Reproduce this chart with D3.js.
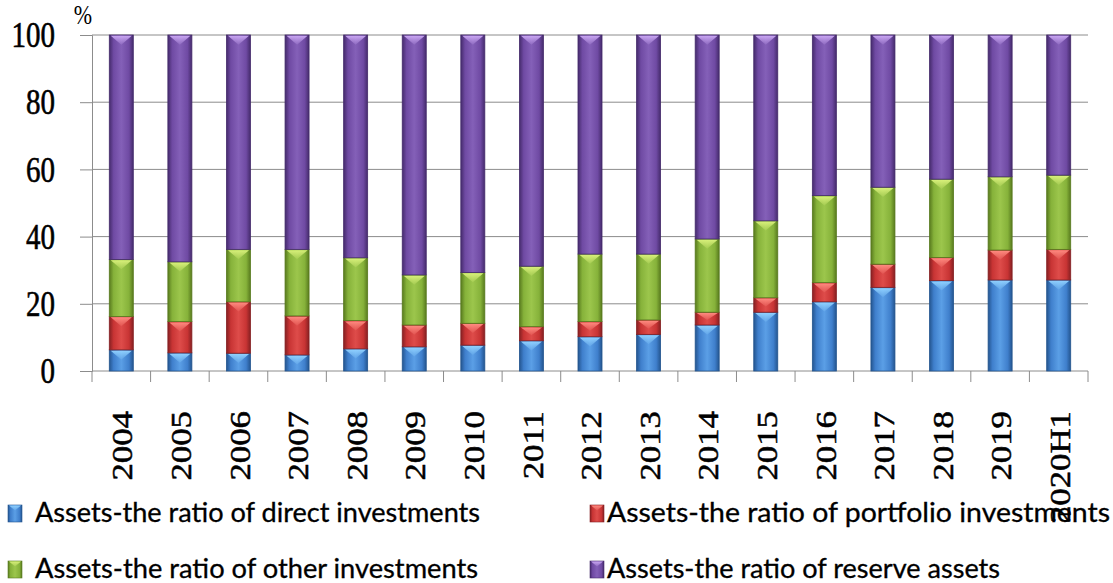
<!DOCTYPE html>
<html>
<head>
<meta charset="utf-8">
<script src="https://cdn.jsdelivr.net/npm/d3@7"></script>
<style>
  html, body { margin: 0; padding: 0; background: #ffffff; }
  svg { display: block; }
</style>
</head>
<body>
<svg id="chart" width="1113" height="583"></svg>
<script>
// Structure of external assets, % of total
const years = ["2004","2005","2006","2007","2008","2009","2010","2011","2012",
               "2013","2014","2015","2016","2017","2018","2019","2020H1"];
const direct    = [6.3, 5.4, 5.3, 4.8, 6.6, 7.2, 7.7, 9.0, 10.2, 10.9, 13.7, 17.5, 20.6, 24.9, 26.9, 27.1, 27.1];
const portfolio = [9.9, 9.3, 15.3, 11.6, 8.4, 6.5, 6.5, 4.2, 4.5, 4.3, 3.8, 4.3, 5.7, 6.9, 6.9, 8.9, 9.1];
const other     = [17.0, 17.8, 15.6, 19.8, 18.7, 14.9, 15.1, 18.0, 20.1, 19.6, 21.8, 22.9, 25.9, 22.9, 23.3, 21.8, 22.1];
const reserve   = [66.8, 67.5, 63.8, 63.8, 66.3, 71.4, 70.7, 68.8, 65.2, 65.2, 60.7, 55.3, 47.8, 45.3, 42.9, 42.2, 41.7];
const yTicks = [0, 20, 40, 60, 80, 100];

const seriesKeys = ["direct", "portfolio", "other", "reserve"];
const seriesNames = [
  "Assets-the ratio of direct investments",
  "Assets-the ratio of portfolio investments",
  "Assets-the ratio of other investments",
  "Assets-the ratio of reserve assets"
];
// edge / base / highlight / chevron colours for the bevelled bars
const palette = {
  direct:    { edge: "#24558f", base: "#3f7fcc", light: "#5b9fe6", tip: "#8fd0ff" },
  portfolio: { edge: "#862022", base: "#c83434", light: "#de4c4a", tip: "#ff8a80" },
  other:     { edge: "#587a1e", base: "#86b23a", light: "#9cc64c", tip: "#d8f07a" },
  reserve:   { edge: "#452b6c", base: "#6f4aa3", light: "#8460b8", tip: "#c9a6f2" }
};

const rows = years.map((yr, i) => ({
  year: yr, direct: direct[i], portfolio: portfolio[i], other: other[i], reserve: reserve[i]
}));

const svg = d3.select("#chart");
const plotLeft = 92, plotRight = 1088, plotTop = 35, plotBottom = 371;
const serif = "Liberation Serif, Times New Roman, serif";

const x = d3.scaleBand().domain(years).range([plotLeft, plotRight])
  .paddingInner(0.59).paddingOuter(0.295);
const y = d3.scaleLinear().domain([0, 100]).range([plotBottom, plotTop]);

// gradients
const defs = svg.append("defs");
seriesKeys.forEach(k => {
  const c = palette[k];
  const g = defs.append("linearGradient").attr("id", "grad-" + k)
    .attr("x1", "0%").attr("x2", "100%").attr("y1", "0%").attr("y2", "0%");
  g.append("stop").attr("offset", "0%").attr("stop-color", c.edge);
  g.append("stop").attr("offset", "18%").attr("stop-color", c.base);
  g.append("stop").attr("offset", "50%").attr("stop-color", c.light);
  g.append("stop").attr("offset", "82%").attr("stop-color", c.base);
  g.append("stop").attr("offset", "100%").attr("stop-color", c.edge);
  const t = defs.append("linearGradient").attr("id", "tip-" + k)
    .attr("x1", "0%").attr("x2", "0%").attr("y1", "0%").attr("y2", "100%");
  t.append("stop").attr("offset", "0%").attr("stop-color", c.tip).attr("stop-opacity", 1);
  t.append("stop").attr("offset", "100%").attr("stop-color", c.tip).attr("stop-opacity", 0.15);
});

// gridlines
svg.append("g").selectAll("line").data(yTicks.filter(v => v > 0)).join("line")
  .attr("x1", plotLeft).attr("x2", plotRight)
  .attr("y1", d => y(d)).attr("y2", d => y(d))
  .attr("stroke", "#8c8c8c").attr("stroke-width", 1);

// y axis
const yAxis = svg.append("g").attr("transform", `translate(${plotLeft},0)`)
  .call(d3.axisLeft(y).tickValues(yTicks).tickSize(12).tickFormat(""));
yAxis.select(".domain").attr("stroke", "#8c8c8c");
yAxis.selectAll(".tick line").attr("stroke", "#8c8c8c");

svg.append("g").selectAll("g").data(yTicks).join("g")
  .attr("transform", d => `translate(55,${y(d)}) scale(1,1.2)`)
  .append("text")
  .attr("text-anchor", "end").attr("dy", "0.35em")
  .attr("font-family", serif)
  .attr("font-size", 29).attr("fill", "#000")
  .attr("stroke", "#000").attr("stroke-width", 0.5)
  .text(d => d);

svg.append("g").attr("transform", "translate(83,24) scale(1,1.2)")
  .append("text").attr("text-anchor", "middle")
  .attr("font-family", serif)
  .attr("font-size", 22).attr("fill", "#000").text("%");

// x axis line and ticks on category boundaries
svg.append("line").attr("x1", plotLeft).attr("x2", plotRight)
  .attr("y1", plotBottom).attr("y2", plotBottom)
  .attr("stroke", "#8c8c8c");
const step = x.step();
svg.append("g").selectAll("line").data(d3.range(years.length + 1)).join("line")
  .attr("x1", i => plotLeft + i * step).attr("x2", i => plotLeft + i * step)
  .attr("y1", plotBottom).attr("y2", plotBottom + 11)
  .attr("stroke", "#8c8c8c");

// stacked bars
const stacked = d3.stack().keys(seriesKeys)(rows);
const bw = x.bandwidth();
const layers = svg.append("g").selectAll("g").data(stacked).join("g");
layers.each(function(layer) {
  const k = layer.key;
  const g = d3.select(this);
  g.selectAll("rect").data(layer).join("rect")
    .attr("x", d => x(d.data.year))
    .attr("y", d => y(d[1]))
    .attr("width", bw)
    .attr("height", d => y(d[0]) - y(d[1]))
    .attr("fill", `url(#grad-${k})`)
    .attr("stroke", palette[k].edge).attr("stroke-width", 0.8);
  g.selectAll("path").data(layer).join("path")
    .attr("d", d => {
      const x0 = x(d.data.year) + 1.5, x1 = x(d.data.year) + bw - 1.5;
      const t = y(d[1]) + 0.8;
      const h = Math.min(9, (y(d[0]) - y(d[1])) * 0.55);
      return `M${x0},${t}L${x1},${t}L${(x0 + x1) / 2},${t + h}Z`;
    })
    .attr("fill", `url(#tip-${k})`);
});

// category labels, rotated
svg.append("g").selectAll("g").data(years).join("g")
  .attr("transform", d => `translate(${x(d) + bw / 2 + 1},411) scale(1,1.2) rotate(-90)`)
  .append("text")
  .attr("text-anchor", "end").attr("dy", "0.35em")
  .attr("font-family", serif)
  .attr("font-size", 29).attr("fill", "#000")
  .attr("stroke", "#000").attr("stroke-width", 0.5)
  .text(d => d);

// legend: two rows, two columns
const legendPos = [
  { mx: 8,   tx: 35,  base: 522, w: 445 },
  { mx: 590, tx: 607, base: 522, w: 503 },
  { mx: 8,   tx: 35,  base: 578, w: 443 },
  { mx: 590, tx: 607, base: 578, w: 393 }
];
const lg = svg.append("g").selectAll("g").data(seriesKeys).join("g");
lg.append("rect")
  .attr("x", (d, i) => legendPos[i].mx)
  .attr("y", (d, i) => legendPos[i].base - 17)
  .attr("width", 14).attr("height", 17)
  .attr("fill", d => `url(#grad-${d})`)
  .attr("stroke", d => palette[d].edge).attr("stroke-width", 0.6);
lg.append("path")
  .attr("d", (d, i) => {
    const p = legendPos[i], x0 = p.mx + 1, x1 = p.mx + 13, t = p.base - 16.5;
    return `M${x0},${t}L${x1},${t}L${(x0 + x1) / 2},${t + 5}Z`;
  })
  .attr("fill", d => `url(#tip-${d})`);
lg.append("text")
  .attr("x", (d, i) => legendPos[i].tx)
  .attr("y", (d, i) => legendPos[i].base)
  .attr("font-family", "Lato, sans-serif")
  .attr("font-size", 26).attr("fill", "#000")
  .attr("stroke", "#000").attr("stroke-width", 0.3)
  .attr("textLength", (d, i) => legendPos[i].w)
  .attr("lengthAdjust", "spacingAndGlyphs")
  .text((d, i) => seriesNames[i]);
</script>
</body>
</html>
